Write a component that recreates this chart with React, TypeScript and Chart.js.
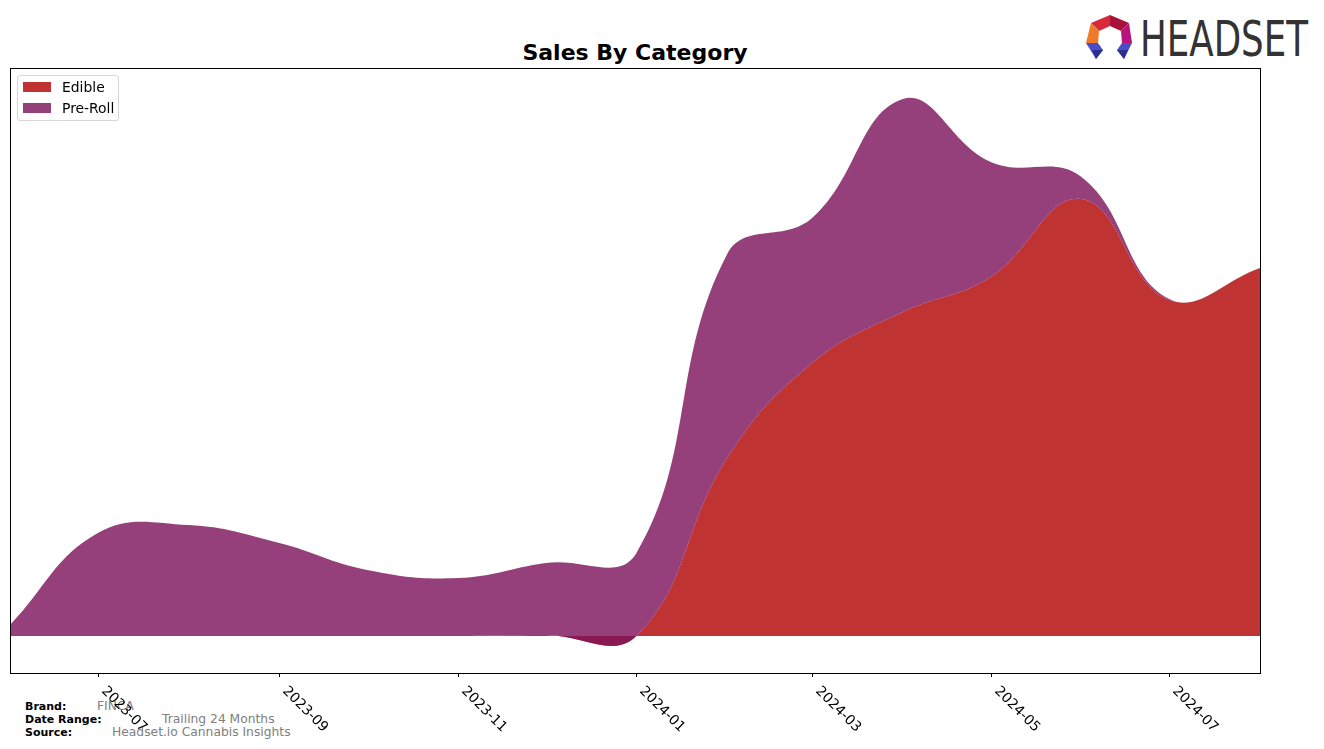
import React, { useEffect, useRef } from "react";
import { Chart, registerables } from "chart.js";

Chart.register(...registerables);

const months = [
  "2023-06", "2023-07", "2023-08", "2023-09", "2023-10", "2023-11", "2023-12",
  "2024-01", "2024-02", "2024-03", "2024-04", "2024-05", "2024-06", "2024-07", "2024-08",
];
const edible = [0, 0, 0, 0, 0, 0, 1, 0, 178, 273, 324, 359, 437, 336, 368];
const preRoll = [11, 103, 111, 93, 66, 58, 72, 83, 204, 145, 213, 115, 22, 1, 0];
const tickLabels = ["2023-07", "2023-09", "2023-11", "2024-01", "2024-03", "2024-05", "2024-07"];

const EDIBLE_COLOR = "rgba(177,4,4,0.81)";
const PREROLL_COLOR = "rgba(125,20,91,0.81)";
const FONT = "'DejaVu Sans', sans-serif";

const toDay = (m: string) => {
  const [y, mo] = m.split("-").map(Number);
  return Date.UTC(y, mo - 1, 1) / 86400000;
};

const framePlugin = {
  id: "frame",
  afterDraw(chart: any) {
    const { ctx, chartArea } = chart;
    const xs = chart.scales.x;
    ctx.save();
    ctx.strokeStyle = "#000";
    ctx.lineWidth = 1;
    ctx.strokeRect(
      Math.round(chartArea.left) + 0.5,
      Math.round(chartArea.top) + 0.5,
      Math.round(chartArea.right - chartArea.left),
      Math.round(chartArea.bottom - chartArea.top)
    );
    ctx.font = `13.9px ${FONT}`;
    ctx.fillStyle = "#000";
    ctx.textAlign = "left";
    ctx.textBaseline = "top";
    for (const t of tickLabels) {
      const px = Math.round(xs.getPixelForValue(toDay(t))) + 0.5;
      const b = Math.round(chartArea.bottom);
      ctx.beginPath();
      ctx.moveTo(px, b);
      ctx.lineTo(px, b + 4);
      ctx.stroke();
      ctx.save();
      ctx.translate(px + 10, b + 11);
      ctx.rotate(Math.PI / 4);
      ctx.fillText(t, 0, 0);
      ctx.restore();
    }
    ctx.restore();
  },
};

function Logo() {
  return (
    <svg
      width={240}
      height={60}
      viewBox="1080 8 240 60"
      style={{ position: "absolute", left: 1080, top: 8 }}
    >
      <polygon points="1110,15 1091,23 1099,31 1110,26" fill="#D8283C" />
      <polygon points="1110,15 1129,23 1121,31 1110,26" fill="#A8123A" />
      <polygon points="1091,23 1086,43 1098,43 1099,31" fill="#F07A28" />
      <polygon points="1129,23 1132,43 1122,43 1121,31" fill="#B8147E" />
      <polygon points="1086,43 1098,43 1103,50 1096,59" fill="#4A4CC8" />
      <polygon points="1092,50 1103,50 1096,59" fill="#2B2F8F" />
      <polygon points="1132,43 1122,43 1117,50 1124,59" fill="#4A4CC8" />
      <polygon points="1128,50 1117,50 1124,59" fill="#2B2F8F" />
      <text
        x={1140}
        y={56}
        fontFamily="'DejaVu Sans Condensed', 'DejaVu Sans', sans-serif"
        fontSize={49}
        fill="#333333"
        textLength={168}
        lengthAdjust="spacingAndGlyphs"
      >
        HEADSET
      </text>
    </svg>
  );
}

export default function App() {
  const canvasRef = useRef<HTMLCanvasElement | null>(null);

  useEffect(() => {
    if (!canvasRef.current) return;
    const xs = months.map(toDay);
    const totals = edible.map((e, i) => e + preRoll[i]);
    const chart = new Chart(canvasRef.current, {
      type: "line",
      data: {
        datasets: [
          {
            label: "Edible",
            data: xs.map((x, i) => ({ x, y: edible[i] })),
            backgroundColor: EDIBLE_COLOR,
            borderColor: EDIBLE_COLOR,
            borderWidth: 0,
            pointRadius: 0,
            fill: "origin",
            tension: 0.42,
            order: 1,
          },
          {
            label: "Pre-Roll",
            data: xs.map((x, i) => ({ x, y: totals[i] })),
            backgroundColor: PREROLL_COLOR,
            borderColor: PREROLL_COLOR,
            borderWidth: 0,
            pointRadius: 0,
            fill: 0,
            tension: 0.42,
            order: 0,
          },
        ],
      },
      options: {
        animation: false,
        responsive: false,
        devicePixelRatio: 1,
        layout: { padding: { left: 10, top: 68, right: 64, bottom: 76 } },
        plugins: {
          legend: { display: false },
          tooltip: { enabled: false },
          title: { display: false },
        },
        scales: {
          x: {
            type: "linear",
            min: xs[0],
            max: xs[xs.length - 1],
            display: false,
          },
          y: {
            type: "linear",
            min: -37,
            max: 568,
            display: false,
          },
        },
      },
      plugins: [framePlugin],
    });
    return () => chart.destroy();
  }, []);

  const footLabel: React.CSSProperties = {
    position: "absolute",
    left: 25,
    fontFamily: FONT,
    fontWeight: "bold",
    fontSize: 11,
    lineHeight: "13px",
    color: "#000",
    whiteSpace: "nowrap",
  };
  const footValue: React.CSSProperties = {
    position: "absolute",
    fontFamily: FONT,
    fontSize: 12.3,
    lineHeight: "14px",
    color: "#808080",
    whiteSpace: "nowrap",
  };

  return (
    <div style={{ position: "absolute", left: 0, top: 0, width: 1324, height: 749, background: "#fff", overflow: "hidden" }}>
      <div
        style={{
          position: "absolute",
          left: 0,
          width: 1270,
          top: 40,
          textAlign: "center",
          fontFamily: FONT,
          fontWeight: "bold",
          fontSize: 22,
          lineHeight: "26px",
          color: "#000",
        }}
      >
        Sales By Category
      </div>
      <Logo />
      <div style={{ ...footLabel, top: 700 }}>Brand:</div>
      <div style={{ ...footLabel, top: 713 }}>Date Range:</div>
      <div style={{ ...footLabel, top: 726 }}>Source:</div>
      <div style={{ ...footValue, left: 97, top: 699 }}>FINCA</div>
      <div style={{ ...footValue, left: 162, top: 712 }}>Trailing 24 Months</div>
      <div style={{ ...footValue, left: 112, top: 725 }}>Headset.io Cannabis Insights</div>
      <canvas
        ref={canvasRef}
        width={1324}
        height={749}
        style={{ position: "absolute", left: 0, top: 0, display: "block" }}
      />
      <div
        style={{
          position: "absolute",
          left: 17,
          top: 75,
          width: 100,
          height: 44,
          border: "1px solid #d6d6d6",
          borderRadius: 3,
          background: "rgba(255,255,255,0.8)",
        }}
      >
        <div style={{ position: "absolute", left: 5, top: 6, width: 28, height: 10, background: EDIBLE_COLOR }} />
        <div style={{ position: "absolute", left: 5, top: 27, width: 28, height: 10, background: PREROLL_COLOR }} />
        <div style={{ position: "absolute", left: 44, top: 2, fontFamily: FONT, fontSize: 13.9, lineHeight: "18px", color: "#000" }}>Edible</div>
        <div style={{ position: "absolute", left: 44, top: 23, fontFamily: FONT, fontSize: 13.9, lineHeight: "18px", color: "#000" }}>Pre-Roll</div>
      </div>
    </div>
  );
}
